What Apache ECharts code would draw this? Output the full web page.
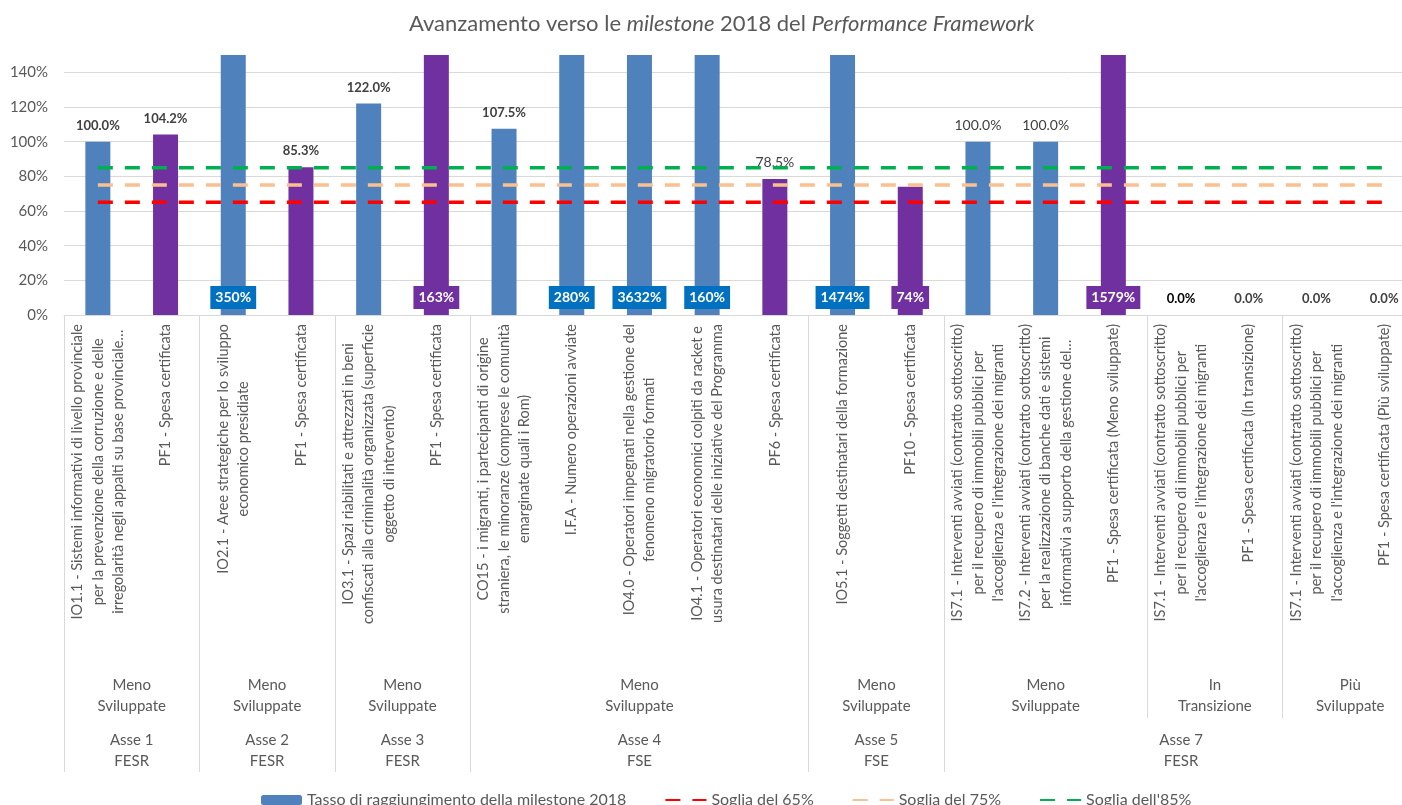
<!DOCTYPE html>
<html><head><meta charset="utf-8">
<script src="https://cdn.jsdelivr.net/npm/echarts@6/dist/echarts.min.js"></script>
<style>html,body{margin:0;padding:0;background:#fff}#c{width:1402px;height:805px}</style>
</head><body><div id="c"></div>
<script>
// ---------- DATA ----------
const categories = [
  "IO1.1 - Sistemi informativi di livello provinciale\nper la prevenzione della corruzione e delle\nirregolarità negli appalti su base provinciale…",
  "PF1 - Spesa certificata",
  "IO2.1 - Aree strategiche per lo sviluppo\neconomico presidiate",
  "PF1 - Spesa certificata",
  "IO3.1 - Spazi riabilitati e attrezzati in beni\nconfiscati alla criminalità organizzata (superficie\noggetto di intervento)",
  "PF1 - Spesa certificata",
  "CO15 - i migranti, i partecipanti di origine\nstraniera, le minoranze (comprese le comunità\nemarginate quali i Rom)",
  "I.F.A - Numero operazioni avviate",
  "IO4.0 - Operatori impegnati nella gestione del\nfenomeno migratorio formati",
  "IO4.1 - Operatori economici colpiti da racket e\nusura destinatari delle iniziative del Programma",
  "PF6 - Spesa certificata",
  "IO5.1 - Soggetti destinatari della formazione",
  "PF10 - Spesa certificata",
  "IS7.1 - Interventi avviati (contratto sottoscritto)\nper il recupero di immobili pubblici per\nl'accoglienza e l'integrazione dei migranti",
  "IS7.2 - Interventi avviati (contratto sottoscritto)\nper la realizzazione di banche dati e sistemi\ninformativi a supporto della gestione del…",
  "PF1 - Spesa certificata (Meno sviluppate)",
  "IS7.1 - Interventi avviati (contratto sottoscritto)\nper il recupero di immobili pubblici per\nl'accoglienza e l'integrazione dei migranti",
  "PF1 - Spesa certificata (In transizione)",
  "IS7.1 - Interventi avviati (contratto sottoscritto)\nper il recupero di immobili pubblici per\nl'accoglienza e l'integrazione dei migranti",
  "PF1 - Spesa certificata (Più sviluppate)"
];
// Tasso di raggiungimento (%)
const values = [100.0, 104.2, 350, 85.3, 122.0, 163, 107.5, 280, 3632, 160, 78.5, 1474, 74, 100.0, 100.0, 1579, 0.0, 0.0, 0.0, 0.0];
// labels shown in a coloured box at the bottom of the bar
const boxedLabels = [false, false, true, false, false, true, false, true, true, true, false, true, true, false, false, true, false, false, false, false];
const threshold65 = [65,65,65,65,65,65,65,65,65,65,65,65,65,65,65,65,65,65,65,65];
const threshold75 = [75,75,75,75,75,75,75,75,75,75,75,75,75,75,75,75,75,75,75,75];
const threshold85 = [85,85,85,85,85,85,85,85,85,85,85,85,85,85,85,85,85,85,85,85];
const areaNames = ["Meno\nSviluppate","Meno\nSviluppate","Meno\nSviluppate","Meno\nSviluppate","Meno\nSviluppate","Meno\nSviluppate","In\nTransizione","Più\nSviluppate"];
const areaSpans = [2,2,2,5,2,3,2,2];
const asseNames = ["Asse 1\nFESR","Asse 2\nFESR","Asse 3\nFESR","Asse 4\nFSE","Asse 5\nFSE","Asse 7\nFESR"];
const asseSpans = [2,2,2,5,2,7];
const yMin = 0, yMax = 150, yStep = 20;
const seriesNames = ["Tasso di raggiungimento della milestone 2018","Soglia del 65%","Soglia del 75%","Soglia dell'85%"];

// ---------- STYLE ----------
const FONT = 'Lato, "Liberation Sans", sans-serif';
const GRAY = '#595959';
const LINE = '#D9D9D9';
const BLUE = '#4F81BD', BOX_BLUE = '#0070C0', PURPLE = '#7030A0';
const plainLabelIdx = [10, 13, 14];
const blackLabelIdx = [16];

function isPF(i){ return /^PF/.test(categories[i]); }

function buildHalfAxis(names, spans){
  const total = spans.reduce((a,b)=>a+b,0);
  const data = new Array(2*total+1).fill('');
  const bounds = new Set();
  let s = 0;
  names.forEach((nm,k)=>{ bounds.add(2*s); data[2*s+spans[k]] = nm; s += spans[k]; });
  bounds.add(2*s);
  return {data, bounds};
}
const areaAxis = buildHalfAxis(areaNames, areaSpans);
const asseAxis = buildHalfAxis(asseNames, asseSpans);

const barData = values.map((v,i)=>{
  const pf = isPF(i);
  let label;
  if (boxedLabels[i]) {
    label = {position:'insideBottom', distance:6, backgroundColor: pf ? PURPLE : BOX_BLUE,
      color:'#fff', fontWeight:'bold', fontSize:14, lineHeight:17, padding:[3,5], fontFamily:FONT};
  } else {
    const plain = plainLabelIdx.includes(i);
    label = {position:'top', distance:8, color: blackLabelIdx.includes(i) ? '#000' : '#404040',
      fontWeight: plain ? 'normal' : 'bold', fontSize: plain ? 14 : 13, lineHeight:16, fontFamily:FONT};
  }
  return {value:v, itemStyle:{color: pf ? PURPLE : BLUE}, label};
});

function halfAxis(ax, tickLen, margin){
  return {
    type:'category', gridIndex:0, position:'bottom', offset:0, boundaryGap:false,
    data: ax.data,
    axisLine:{show:false},
    axisTick:{show:true, length:tickLen, inside:false, interval:(idx)=>ax.bounds.has(idx), lineStyle:{color:LINE, width:1}},
    axisLabel:{show:true, interval:(idx,val)=>val!=='', margin:margin, color:GRAY, fontSize:15, lineHeight:21, fontFamily:FONT},
    splitLine:{show:false}
  };
}

const lineSeries = (name, data, color) => ({
  name, type:'line', data, symbol:'none', z:5, silent:true,
  lineStyle:{color, width:3.5, type:[15,12], cap:'butt'},
  itemStyle:{color}
});

const chart = echarts.init(document.getElementById('c'), null, {renderer:'canvas'});
chart.setOption({
  animation:false,
  backgroundColor:'#fff',
  title:{
    text:'{n|Avanzamento verso le }{i|milestone}{n| 2018 del }{i|Performance Framework}',
    left:404, top:8,
    textStyle:{rich:{
      n:{fontSize:22, color:GRAY, fontFamily:FONT, fontWeight:'normal'},
      i:{fontSize:22, color:GRAY, fontFamily:FONT, fontStyle:'italic', fontWeight:'normal'}
    }}
  },
  legend:{
    data: seriesNames.map((n,i)=> i === 0 ? {name:n} : {name:n, itemStyle:{opacity:0}}),
    left:256, top:787, itemWidth:41, itemHeight:10, itemGap:38,
    textStyle:{color:GRAY, fontSize:16, fontFamily:FONT}
  },
  grid:{left:64, top:55, width:1354, height:260, containLabel:false, outerBoundsMode:'none'},
  xAxis:[
    {
      type:'category', gridIndex:0, position:'bottom', data:categories,
      axisLine:{show:true, lineStyle:{color:LINE, width:1}},
      axisTick:{show:false},
      axisLabel:{
        interval:0, rotate:90, margin:9,
        formatter:(val)=>val.split('\n').map(l=>'{c|'+l+'}').join('\n'),
        rich:{c:{align:'center', fontSize:14.5, lineHeight:20.5, color:GRAY, fontFamily:FONT}}
      },
      splitLine:{show:false}
    },
    halfAxis(areaAxis, 403, 360),
    halfAxis(asseAxis, 457, 415)
  ],
  yAxis:{
    type:'value', min:yMin, max:yMax, interval:yStep,
    axisLine:{show:false}, axisTick:{show:false},
    axisLabel:{formatter:(v)=>v+'%', showMaxLabel:false, margin:16, color:GRAY, fontSize:15, fontFamily:FONT},
    splitLine:{show:true, showMaxLine:false, lineStyle:{color:LINE, width:1}}
  },
  series:[
    {
      name:seriesNames[0], type:'bar', data:barData, barWidth:25, clip:true,
      itemStyle:{color:BLUE},
      label:{show:true, formatter:(p)=> boxedLabels[p.dataIndex] ? Math.round(p.value)+'%' : p.value.toFixed(1)+'%'}
    },
    lineSeries(seriesNames[1], threshold65, '#FF0000'),
    lineSeries(seriesNames[2], threshold75, '#FAC090'),
    lineSeries(seriesNames[3], threshold85, '#00B050')
  ]
});
</script></body></html>
